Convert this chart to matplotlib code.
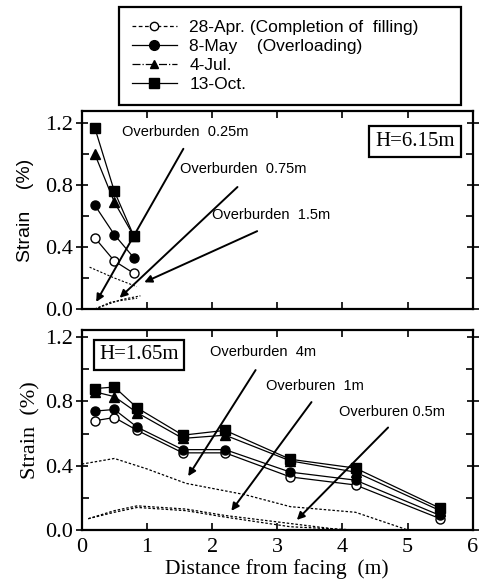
import matplotlib
matplotlib.use("Agg")
import matplotlib.pyplot as plt
from matplotlib.lines import Line2D

# ---- data: H = 6.15 m (upper panel) ----
x_top = [0.2, 0.5, 0.8]
top_apr = [0.46, 0.31, 0.23]
top_may = [0.67, 0.48, 0.33]
top_jul = [1.00, 0.69, 0.47]
top_oct = [1.17, 0.76, 0.47]

# dotted overburden curves, upper panel
top_ob_x = [[0.12, 0.5, 0.84], [0.2, 0.45, 0.85], [0.2, 0.6, 0.9]]
top_ob_y = [[0.27, 0.20, 0.145], [0.0, 0.045, 0.07], [0.0, 0.06, 0.085]]

# ---- data: H = 1.65 m (lower panel) ----
x_bot = [0.2, 0.5, 0.85, 1.55, 2.2, 3.2, 4.2, 5.5]
bot_apr = [0.68, 0.70, 0.62, 0.48, 0.48, 0.33, 0.28, 0.07]
bot_may = [0.74, 0.75, 0.64, 0.50, 0.50, 0.36, 0.31, 0.09]
bot_jul = [0.86, 0.83, 0.73, 0.57, 0.59, 0.43, 0.36, 0.12]
bot_oct = [0.88, 0.89, 0.76, 0.59, 0.62, 0.44, 0.385, 0.135]

bot_ob_x = [[0.0, 0.5, 1.0, 1.6, 2.5, 3.2, 4.2, 5.0],
            [0.1, 0.5, 0.85, 1.6, 2.2, 3.2, 4.0],
            [0.1, 0.5, 0.85, 1.6, 2.2, 3.2, 4.2]]
bot_ob_y = [[0.41, 0.445, 0.38, 0.29, 0.22, 0.145, 0.11, 0.0],
            [0.07, 0.12, 0.15, 0.13, 0.09, 0.04, 0.0],
            [0.07, 0.11, 0.14, 0.12, 0.08, 0.02, 0.0]]

labels = ["28-Apr. (Completion of  filling)", "8-May    (Overloading)",
          "4-Jul.", "13-Oct."]

plt.rcParams["font.family"] = "Liberation Serif"
plt.rcParams["xtick.direction"] = "in"
plt.rcParams["ytick.direction"] = "in"

fig = plt.figure(figsize=(4.81, 5.83), dpi=100)
ax1 = fig.add_axes([0.170, 0.470, 0.813, 0.340])
ax2 = fig.add_axes([0.170, 0.091, 0.813, 0.343])


def draw_series(ax, x, apr, may, jul, oct_):
    kw = dict(color="black", lw=0.9)
    ax.plot(x, apr, marker="o", mfc="white", mec="black", ms=6.5, **kw)
    ax.plot(x, may, marker="o", mfc="black", ms=6.5, **kw)
    ax.plot(x, jul, marker="^", mfc="black", ms=6.5, **kw)
    ax.plot(x, oct_, marker="s", mfc="black", ms=6.5, **kw)


def style_axes(ax, ylim_top):
    ax.set_xlim(0, 6)
    ax.set_ylim(0, ylim_top)
    ax.set_xticks([0, 1, 2, 3, 4, 5, 6])
    ax.set_yticks([0.0, 0.4, 0.8, 1.2])
    ax.set_yticks([0.2, 0.6, 1.0], minor=True)
    ax.set_yticklabels(["0.0", "0.4", "0.8", "1.2"])
    ax.tick_params(which="both", top=True, right=True, labelsize=16,
                   length=5, width=1.2, pad=2)
    ax.tick_params(axis="x", pad=6)
    ax.tick_params(axis="y", which="major", direction="inout", length=8)
    for s in ax.spines.values():
        s.set_linewidth(1.6)


draw_series(ax1, x_top, top_apr, top_may, top_jul, top_oct)
for xs, ys in zip(top_ob_x, top_ob_y):
    ax1.plot(xs, ys, color="black", lw=0.8, ls=(0, (2, 1.5)))
style_axes(ax1, 1.28)
ax1.set_xticklabels([])
ax1.set_ylabel("Strain    (%)", family="Liberation Sans", fontsize=14, labelpad=8)

arrow = dict(arrowstyle="-|>", color="black", lw=1.4, mutation_scale=11)
ax1.annotate("", xy=(0.2, 0.03), xytext=(1.58, 1.05), arrowprops=arrow)
ax1.annotate("", xy=(0.55, 0.06), xytext=(2.42, 0.80), arrowprops=arrow)
ax1.annotate("", xy=(0.92, 0.165), xytext=(2.73, 0.51), arrowprops=arrow)
ax1.text(0.62, 1.12, "Overburden  0.25m", family="Liberation Sans", fontsize=10.5)
ax1.text(1.5, 0.88, "Overburden  0.75m", family="Liberation Sans", fontsize=10.5)
ax1.text(2.0, 0.58, "Overburden  1.5m", family="Liberation Sans", fontsize=10.5)
ax1.text(5.12, 1.08, "H=6.15m", fontsize=15, ha="center", va="center",
         bbox=dict(boxstyle="square,pad=0.3", fc="white", ec="black", lw=1.6))

draw_series(ax2, x_bot, bot_apr, bot_may, bot_jul, bot_oct)
for xs, ys in zip(bot_ob_x, bot_ob_y):
    ax2.plot(xs, ys, color="black", lw=0.9, ls=(0, (2, 1.5)))
style_axes(ax2, 1.245)
ax2.set_ylabel("Strain  (%)", fontsize=16, labelpad=4)
ax2.set_xlabel("Distance from facing  (m)", fontsize=15.5, labelpad=1)

ax2.annotate("", xy=(1.61, 0.32), xytext=(2.69, 1.01), arrowprops=arrow)
ax2.annotate("", xy=(2.27, 0.105), xytext=(3.55, 0.81), arrowprops=arrow)
ax2.annotate("", xy=(3.27, 0.05), xytext=(4.73, 0.65), arrowprops=arrow)
ax2.text(1.97, 1.08, "Overburden  4m", family="Liberation Sans", fontsize=10.5)
ax2.text(2.83, 0.87, "Overburen  1m", family="Liberation Sans", fontsize=10.5)
ax2.text(3.95, 0.71, "Overburen 0.5m", family="Liberation Sans", fontsize=10.5)
ax2.text(0.88, 1.09, "H=1.65m", fontsize=15, ha="center", va="center",
         bbox=dict(boxstyle="square,pad=0.25", fc="white", ec="black", lw=1.6))

handles = [
    Line2D([], [], color="black", lw=0.9, ls=(0, (3, 2)), marker="o",
           mfc="white", ms=6),
    Line2D([], [], color="black", lw=0.9, marker="o", mfc="black", ms=7),
    Line2D([], [], color="black", lw=0.9, ls="-.", marker="^", mfc="black", ms=6),
    Line2D([], [], color="black", lw=0.9, marker="s", mfc="black", ms=7),
]
leg = fig.legend(handles, labels, loc="center left", mode="expand",
                 bbox_to_anchor=(0.229, 0.818, 0.748, 0.172),
                 prop={"family": "Liberation Sans", "size": 12.5},
                 handlelength=2.6, handletextpad=0.7, labelspacing=0.22,
                 borderpad=0.75, fancybox=False, framealpha=1)
leg.get_frame().set_edgecolor("black")
leg.get_frame().set_linewidth(1.6)

fig.savefig("out.png", dpi=100)
